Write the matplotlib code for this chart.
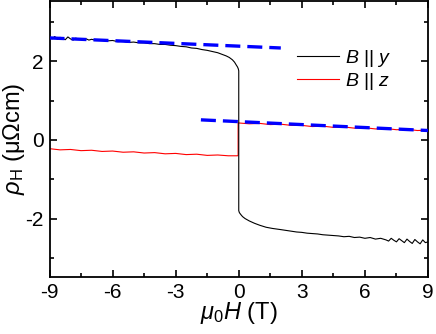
import matplotlib
matplotlib.use("Agg")
import matplotlib.pyplot as plt
from matplotlib.ticker import MultipleLocator

plt.rcParams['font.family'] = ['Liberation Sans', 'DejaVu Sans']
plt.rcParams['mathtext.fontset'] = 'custom'
plt.rcParams['mathtext.rm'] = 'Liberation Sans'
plt.rcParams['mathtext.it'] = 'Liberation Sans:italic'
plt.rcParams['mathtext.bf'] = 'Liberation Sans:bold'

# B || y (black)
by_x = [-9, -8.875, -8.75, -8.625, -8.5, -8.375, -8.25, -8.125, -8, -7.875, -7.75,
        -7.625, -7.5, -7.375, -7.25, -7.125, -7, -6.75, -6.5, -6.25, -6,
        -5.75, -5.5, -5.25, -5, -4.75, -4.5, -4.25, -4, -3.75, -3.5, -3.25, -3, -2.75,
        -2.5, -2.25, -2, -1.75, -1.5, -1.25, -1, -0.8, -0.6, -0.45, -0.3, -0.2, -0.12,
        -0.06, -0.02, 0, 0,
        0.03, 0.1, 0.18, 0.3, 0.5, 0.75, 1, 1.3, 1.6, 2, 2.25, 2.5, 2.75, 3, 3.25, 3.5,
        3.75, 4, 4.25, 4.5, 4.75, 5, 5.25, 5.5, 5.75, 6, 6.25, 6.5, 6.75, 7, 7.125, 7.25,
        7.375, 7.5, 7.625, 7.75, 7.875, 8, 8.125, 8.25, 8.375, 8.5, 8.625, 8.75, 8.875, 9]
by_y = [2.60, 2.56, 2.62, 2.55, 2.60, 2.57, 2.54, 2.61, 2.56, 2.53, 2.58, 2.55,
        2.57, 2.52, 2.56, 2.53, 2.55, 2.52, 2.54, 2.51, 2.52,
        2.49, 2.50, 2.47, 2.48, 2.46, 2.46, 2.44, 2.44, 2.42, 2.42, 2.40, 2.39, 2.37,
        2.36, 2.33, 2.32, 2.29, 2.27, 2.24, 2.21, 2.17, 2.13, 2.09, 2.03, 1.97, 1.90,
        1.85, 1.80, 1.75, -1.79,
        -1.84, -1.89, -1.94, -1.99, -2.05, -2.11, -2.16, -2.21, -2.24, -2.27, -2.29, -2.31,
        -2.33, -2.34, -2.36, -2.37, -2.38, -2.40, -2.41, -2.42, -2.43, -2.45, -2.44, -2.47,
        -2.46, -2.49, -2.47, -2.51, -2.49, -2.53, -2.56, -2.49, -2.54, -2.58, -2.50,
        -2.55, -2.60, -2.51, -2.57, -2.62, -2.52, -2.58, -2.63, -2.53, -2.60, -2.58]

# B || z (red)
bz_x = [-9, -8.5, -8, -7.5, -7, -6.5, -6, -5.5, -5, -4.5, -4, -3.5, -3, -2.5, -2, -1.5,
        -1, -0.5, -0.05, -0.03, -0.03,
        0.02, 0.5, 1, 1.5, 2, 2.5, 3, 3.5, 4, 4.5, 5, 5.5, 6, 6.5, 7, 7.5, 8, 8.5, 9]
bz_y = [-0.22, -0.25, -0.24, -0.27, -0.26, -0.29, -0.28, -0.31, -0.30, -0.33, -0.32,
        -0.35, -0.34, -0.37, -0.36, -0.39, -0.38, -0.40, -0.40, -0.38, 0.43,
        0.43, 0.41, 0.42, 0.39, 0.40, 0.37, 0.37, 0.34, 0.35, 0.32, 0.33, 0.30, 0.31,
        0.28, 0.29, 0.26, 0.27, 0.24, 0.25]

# linear guides (blue dashed)
fit1_x = [-9, 2.0]
fit1_y = [2.585, 2.33]
fit2_x = [-1.8, 9]
fit2_y = [0.51, 0.24]

xticks = [-9, -6, -3, 0, 3, 6, 9]
yticks = [-2, 0, 2]

fig = plt.figure(figsize=(4.36, 3.34), dpi=100)
ax = fig.add_axes([49.5/436, 1-277/334, (428-49.5)/436, (277-1)/334])

ax.plot(bz_x, bz_y, color='#ff0000', lw=0.8, zorder=2, label=r'$B$ || $z$')
ax.plot(by_x, by_y, color='black', lw=0.8, zorder=3, label=r'$B$ || $y$')
ax.plot(fit1_x, fit1_y, color='#0000ff', lw=2.4, ls=(0, (4.5, 2.1)), zorder=4)
ax.plot(fit2_x, fit2_y, color='#0000ff', lw=2.4, ls=(0, (4.5, 2.1)), zorder=4)

ax.set_xlim(-9, 9)
ax.set_ylim(-3.47, 3.52)
ax.set_xticks(xticks)
ax.set_xticklabels([str(v) for v in xticks])
ax.set_yticks(yticks)
ax.set_yticklabels([str(v) for v in yticks])
ax.xaxis.set_minor_locator(MultipleLocator(1.5))
ax.yaxis.set_minor_locator(MultipleLocator(1))
ax.tick_params(which='both', direction='in', top=True, right=True, width=1.2, labelsize=15)
ax.tick_params(which='major', length=5)
ax.tick_params(which='minor', length=3)
ax.tick_params(axis='x', pad=4)
ax.tick_params(axis='y', pad=4)
for s in ax.spines.values():
    s.set_linewidth(1.3)

ax.set_xlabel(r'$\mu_0H$ (T)', fontsize=17, labelpad=-1)
ax.set_ylabel(r'$\rho_\mathrm{H}$ ($\mathrm{\mu\Omega}$cm)', fontsize=17, labelpad=-1)

h, l = ax.get_legend_handles_labels()
leg = ax.legend([h[1], h[0]], [l[1], l[0]], loc='upper left', frameon=False,
                bbox_to_anchor=(283/436, 1-34/334), bbox_transform=fig.transFigure,
                fontsize=14, handlelength=2.2, handletextpad=0.3, labelspacing=0.1,
                borderpad=0.2)

fig.savefig('out.png', dpi=100)
